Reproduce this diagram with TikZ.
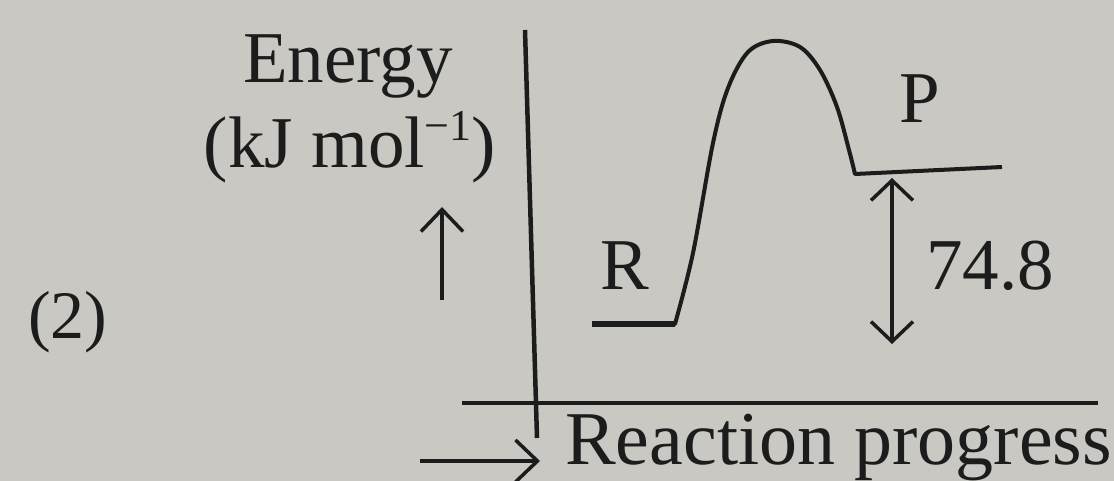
\documentclass[tikz,border=0pt]{standalone}
\usepackage{fontspec}
\setmainfont{Liberation Serif}
\usetikzlibrary{arrows.meta}
\definecolor{bg}{RGB}{201,200,195}
\definecolor{ink}{RGB}{28,28,28}
\newcommand{\supminusone}{\raisebox{27pt}{\fontsize{44}{48}\selectfont −1}}
\tikzset{
  lbl/.style={inner sep=0pt, text=ink, font=\fontsize{73}{80}\selectfont},
  axisline/.style={draw=ink, line width=4.5pt},
  curveline/.style={draw=ink, line width=4pt, line join=round},
  barb/.style={-{Straight Barb[length=22pt,width=42pt,line width=3.5pt]}, draw=ink, line width=3.5pt},
  dbarb/.style={{Straight Barb[length=20pt,width=42pt,line width=3.5pt]}-{Straight Barb[length=20pt,width=42pt,line width=3.5pt]}, draw=ink, line width=3.5pt}
}
\begin{document}
\begin{tikzpicture}[x=1pt,y=-1pt]
\useasboundingbox (0,0) rectangle (1114,481);
\fill[bg] (0,0) rectangle (1114,481);

% texts
\node[lbl, anchor=base] (nE) at (348,83) {Energy};
\node[lbl, anchor=base] (nK) at (350,168) {(kJ mol\supminusone)};
\node[lbl, anchor=base, font=\fontsize{68}{75}\selectfont] (n2) at (68,338) {(2)};
\node[lbl, anchor=base] (nR) at (625,289) {R};
\node[lbl, anchor=base] (nP) at (920,123) {P};
\node[lbl, anchor=base west] (nV) at (926,290) {74.8};
\node[lbl, anchor=base west, font=\fontsize{76}{82}\selectfont] (nRP) at (565,464) {Reaction progress};

% axes
\coordinate (yTop) at (525,30);
\coordinate (yBot) at (537,438);
\coordinate (xL) at (462,403);
\coordinate (xR) at (1098,403);
\draw[axisline] (yTop) -- (yBot);
\draw[axisline] (xL) -- (xR);

% energy profile
\coordinate (r0) at (592,324);
\coordinate (r1) at (675,324);
\coordinate (p0) at (855,174);
\coordinate (p1) at (1002,167);
\draw[curveline] (r0) -- (r1) -- plot[smooth, tension=0.55] coordinates {(675,324) (693,253) (713,143) (728,88) (748,52) (773,41) (800,47) (820,70) (837,107) (849,150) (855,174)} -- (p1);
\draw[line width=6pt, draw=ink] (r0) -- (r1);

% arrows
\coordinate (uA) at (442,300);
\coordinate (uB) at (442,207);
\draw[barb] (uA) -- (uB);
\coordinate (dA) at (892,178);
\coordinate (dB) at (892,344);
\draw[dbarb] (dA) -- (dB);
\coordinate (hA) at (420,461);
\coordinate (hB) at (540,461);
\draw[barb] (hA) -- (hB);
\end{tikzpicture}
\end{document}
